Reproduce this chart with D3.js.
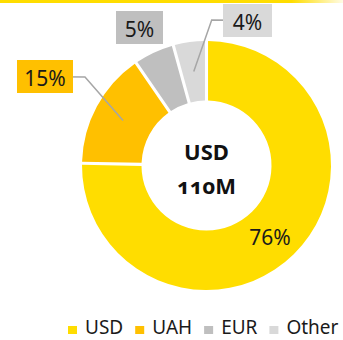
<!DOCTYPE html>
<html>
<head>
<meta charset="utf-8">
<script src="https://cdn.jsdelivr.net/npm/d3@7"></script>
<style>
  html, body { margin: 0; padding: 0; background: #fff; }
  svg { display: block; font-family: "Noto Sans", "Open Sans", sans-serif; }
</style>
</head>
<body>
<svg id="chart" width="343" height="340"></svg>
<script>
// Currency split of the portfolio
const categories = ["USD", "UAH", "EUR", "Other"];
const shares = [76, 15, 5, 4];
const colors = ["#FFDD00", "#FFC000", "#BFBFBF", "#D9D9D9"];
const totalLabel = ["USD", "110M"];

const svg = d3.select("#chart");
const W = 343, H = 340;

// thin brand stripe along the top edge
const defs = svg.append("defs");
const grad = defs.append("linearGradient").attr("id", "stripe").attr("x1", "0").attr("x2", "1");
grad.append("stop").attr("offset", "0%").attr("stop-color", "#FFDD00");
grad.append("stop").attr("offset", "85%").attr("stop-color", "#FFDD00");
grad.append("stop").attr("offset", "100%").attr("stop-color", "#FFDD00").attr("stop-opacity", 0.1);
svg.append("rect").attr("x", 0).attr("y", 0).attr("width", W).attr("height", 3).attr("fill", "url(#stripe)");

const cx = 206.5, cy = 165.5, rOuter = 124.5, rInner = 65;
const g = svg.append("g").attr("transform", `translate(${cx},${cy})`);

const data = categories.map((c, i) => ({ name: c, value: shares[i], color: colors[i] }));
const pie = d3.pie().value(d => d.value).sort(null).padAngle(0.022);
const arcs = pie(data);
const arc = d3.arc().innerRadius(rInner).outerRadius(rOuter);
const mid = d3.arc().innerRadius((rInner + rOuter) / 2).outerRadius((rInner + rOuter) / 2);

g.selectAll("path.slice").data(arcs).join("path")
  .attr("class", "slice")
  .attr("d", arc)
  .attr("fill", d => d.data.color);

// label placement: inside the slice for the large share, boxed callouts otherwise
const labelSpec = {
  USD:   { inside: true, dx: 63.5, dy: 71 },
  UAH:   { box: [17, 60, 56, 33], elbow: [85, 77], fill: "#FFC000" },
  EUR:   { box: [116, 11, 47, 33], fill: "#BFBFBF" },
  Other: { box: [223, 4, 49, 33], elbow: [211.7, 20], fill: "#D9D9D9" }
};

arcs.forEach(a => {
  const spec = labelSpec[a.data.name];
  const txt = a.data.value + "%";
  if (spec.inside) {
    svg.append("text")
      .attr("x", cx + spec.dx).attr("y", cy + spec.dy)
      .attr("text-anchor", "middle").attr("dominant-baseline", "central")
      .attr("font-size", 21).attr("fill", "#1a1a1a").text(txt);
    return;
  }
  const [bx, by, bw, bh] = spec.box;
  if (spec.elbow) {
    const c = mid.centroid(a);
    const start = spec.elbow[0] > bx ? [bx, by + bh / 2] : [bx + bw, by + bh / 2];
    svg.append("polyline")
      .attr("points", [start, spec.elbow, [cx + c[0], cy + c[1]]].map(p => p.join(",")).join(" "))
      .attr("fill", "none").attr("stroke", "#A6A6A6").attr("stroke-width", 1.5);
  }
  svg.append("rect").attr("x", bx).attr("y", by).attr("width", bw).attr("height", bh).attr("fill", spec.fill);
  svg.append("text")
    .attr("x", bx + bw / 2).attr("y", by + bh / 2 + 1)
    .attr("text-anchor", "middle").attr("dominant-baseline", "central")
    .attr("font-size", 21).attr("fill", "#1a1a1a").text(txt);
});

// total in the hole
const center = svg.append("text").attr("text-anchor", "middle")
  .attr("font-weight", "bold").attr("font-size", 22).attr("fill", "#111")
  .style("font-feature-settings", "'onum' 1");
center.append("tspan").attr("x", cx).attr("y", 160).text(totalLabel[0]);
center.append("tspan").attr("x", cx).attr("y", 194).text(totalLabel[1]);

// legend
const legend = svg.append("g");
let lx = 68;
data.forEach(d => {
  legend.append("rect").attr("x", lx).attr("y", 326).attr("width", 9).attr("height", 8).attr("fill", d.color);
  const t = legend.append("text").attr("x", lx + 17).attr("y", 334)
    .attr("font-size", 19).attr("fill", "#1a1a1a").text(d.name);
  lx += 17 + t.node().getComputedTextLength() + 12;
});
</script>
</body>
</html>
